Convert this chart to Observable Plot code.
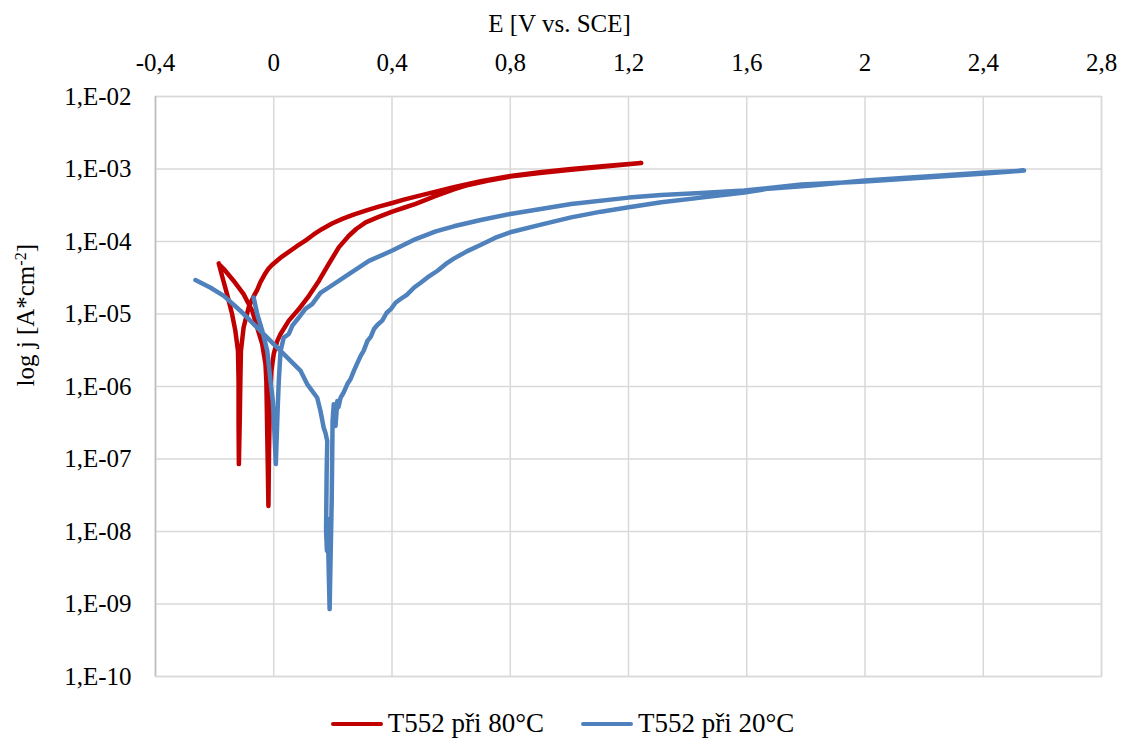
<!DOCTYPE html>
<html>
<head>
<meta charset="utf-8">
<script src="https://cdn.jsdelivr.net/npm/d3@7"></script>
<script src="https://cdn.jsdelivr.net/npm/@observablehq/plot@0.6"></script>
<style>
  html, body { margin: 0; padding: 0; background: #fff; }
  #wrap { width: 1121px; height: 738px; position: relative; overflow: hidden; font-family: "Liberation Serif", "Times New Roman", serif; }
  #legend { position: absolute; left: 0; top: 708px; width: 1121px; display: flex; justify-content: center; gap: 37px; font-size: 27px; color: #000; padding-left: 2px; }
  .item { display: flex; align-items: center; }
  .sw { display: inline-block; width: 52px; height: 0; border-top: 4px solid; margin-right: 5px; border-radius: 2px; }
</style>
</head>
<body>
<div id="wrap"><div id="chart"></div><div id="legend"></div></div>
<script>
// ---- Data (E in V vs. SCE, j in A/cm^2) ----
const seriesNames = ["T552 při 80°C", "T552 při 20°C"];
const seriesColors = ["#C00000", "#4F81BD"];

const redE = [-0.186, -0.175, -0.158, -0.141, -0.130, -0.121, -0.119, -0.119, -0.118, -0.115, -0.113, -0.111, -0.102, -0.085, -0.068, -0.056, -0.045, -0.030, -0.018, -0.006, 0.009, 0.028, 0.051, 0.078, 0.107, 0.135, 0.164, 0.197, 0.232, 0.270, 0.311, 0.355, 0.401, 0.440, 0.480, 0.548, 0.609, 0.700, 0.800, 0.900, 1.006, 1.120, 1.243,
  1.120, 1.006, 0.900, 0.800, 0.723, 0.650, 0.609, 0.548, 0.480, 0.440, 0.401, 0.355, 0.311, 0.280, 0.254, 0.220, 0.186, 0.153, 0.119, 0.085, 0.051, 0.023, 0.012, 0.000, -0.008, -0.013, -0.016, -0.018, -0.021, -0.025, -0.028, -0.039, -0.056, -0.073, -0.102, -0.136, -0.169, -0.184];
const redJ = [5.0e-5, 3.37e-5, 1.88e-5, 1.0e-5, 5.9e-6, 3.1e-6, 1.19e-6, 3.35e-7, 8.5e-8, 3.35e-7, 1.19e-6, 3.1e-6, 6.5e-6, 1.23e-5, 1.75e-5, 2.15e-5, 2.75e-5, 3.55e-5, 4.2e-5, 4.75e-5, 5.35e-5, 6.2e-5, 7.2e-5, 8.6e-5, 1.03e-4, 1.25e-4, 1.49e-4, 1.77e-4, 2.05e-4, 2.35e-4, 2.66e-4, 3.02e-4, 3.40e-4, 3.78e-4, 4.16e-4, 4.88e-4, 5.6e-4, 6.8e-4, 8.0e-4, 9.0e-4, 1.0e-3, 1.1e-3, 1.21e-3,
  1.08e-3, 9.8e-4, 8.8e-4, 7.85e-4, 6.9e-4, 5.9e-4, 5.25e-4, 4.25e-4, 3.30e-4, 2.92e-4, 2.58e-4, 2.18e-4, 1.84e-4, 1.50e-4, 1.20e-4, 8.3e-5, 4.89e-5, 2.88e-5, 1.78e-5, 1.17e-5, 8.1e-6, 5.3e-6, 4.26e-6, 2.82e-6, 1.64e-6, 6.3e-7, 1.29e-7, 2.25e-8, 1.29e-7, 1.19e-6, 2.03e-6, 3.84e-6, 6.5e-6, 1.11e-5, 1.88e-5, 2.88e-5, 4.17e-5, 4.8e-5];

const blueE = [-0.265, -0.215, -0.169, -0.113, -0.056, 0.000, 0.057, 0.091, 0.113, 0.147, 0.158, 0.169, 0.175, 0.181, 0.179, 0.177, 0.180, 0.182, 0.189, 0.192, 0.196, 0.199, 0.203, 0.209, 0.215, 0.219, 0.226, 0.236, 0.249, 0.260, 0.271, 0.280, 0.294, 0.304, 0.317, 0.328, 0.339, 0.351, 0.367, 0.382, 0.396, 0.412, 0.429, 0.450, 0.475, 0.497, 0.520, 0.554, 0.582, 0.609, 0.653, 0.701, 0.748, 0.800, 0.904, 1.006, 1.107, 1.201, 1.311, 1.446, 1.592, 1.673, 1.819, 1.999, 2.192, 2.395, 2.538,
  2.395, 2.192, 1.999, 1.785, 1.592, 1.446, 1.311, 1.201, 1.006, 0.800, 0.700, 0.609, 0.548, 0.480, 0.401, 0.322, 0.254, 0.186, 0.158, 0.130, 0.107, 0.085, 0.063, 0.051, 0.034, 0.023, 0.017, 0.013, 0.007, 0.002, -0.003, -0.011, -0.022, -0.039, -0.056, -0.068];
const blueJ = [2.94e-5, 2.32e-5, 1.78e-5, 1.11e-5, 6.5e-6, 3.84e-6, 2.26e-6, 1.64e-6, 1.08e-6, 7.0e-7, 4.6e-7, 2.7e-7, 2.28e-7, 1.77e-7, 6.8e-8, 1.01e-8, 5.4e-9, 1.5e-8, 8.5e-10, 3.9e-9, 2.63e-8, 3.35e-7, 5.7e-7, 2.86e-7, 6.3e-7, 5.2e-7, 7.0e-7, 8.2e-7, 1.08e-6, 1.27e-6, 1.64e-6, 1.99e-6, 2.65e-6, 3.1e-6, 4.26e-6, 4.84e-6, 6.2e-6, 7.1e-6, 8.1e-6, 1.04e-5, 1.17e-5, 1.43e-5, 1.61e-5, 1.84e-5, 2.32e-5, 2.70e-5, 3.19e-5, 3.95e-5, 4.9e-5, 5.8e-5, 7.3e-5, 9.0e-5, 1.12e-4, 1.34e-4, 1.71e-4, 2.15e-4, 2.58e-4, 2.96e-4, 3.47e-4, 4.03e-4, 4.72e-4, 5.36e-4, 5.9e-4, 6.92e-4, 7.85e-4, 8.9e-4, 9.5e-4,
  8.6e-4, 7.6e-4, 6.7e-4, 6.1e-4, 5.04e-4, 4.65e-4, 4.37e-4, 4.03e-4, 3.30e-4, 2.40e-4, 1.98e-4, 1.62e-4, 1.38e-4, 1.08e-4, 7.5e-5, 5.4e-5, 3.56e-5, 2.32e-5, 1.96e-5, 1.37e-5, 1.18e-5, 8.95e-6, 6.9e-6, 5.3e-6, 4.73e-6, 3.1e-6, 1.19e-6, 4.6e-7, 8.5e-8, 2.44e-7, 6.3e-7, 1.19e-6, 3.1e-6, 5.9e-6, 1.0e-5, 1.69e-5];

const xTicks = [-0.4, 0, 0.4, 0.8, 1.2, 1.6, 2, 2.4, 2.8];
const yTicks = [1e-2, 1e-3, 1e-4, 1e-5, 1e-6, 1e-7, 1e-8, 1e-9, 1e-10];
const xTitle = "E [V vs. SCE]";
const yTitle = "log j [A*cm-2]";

// ---- Build tables ----
const red = redE.map((e, i) => ({E: e, j: redJ[i], s: seriesNames[0]}));
const blue = blueE.map((e, i) => ({E: e, j: blueJ[i], s: seriesNames[1]}));

const grid = "#d9d9d9";
const chart = Plot.plot({
  width: 1121,
  height: 700,
  marginTop: 96,
  marginBottom: 24,
  marginLeft: 155,
  marginRight: 20,
  style: {fontFamily: "'Liberation Serif', 'Times New Roman', serif", fontSize: "25px", color: "#000", background: "#fff"},
  x: {domain: [-0.4, 2.8]},
  y: {type: "log", domain: [1e-10, 1e-2]},
  marks: [
    Plot.gridX(xTicks, {stroke: grid, strokeOpacity: 1, strokeWidth: 1.5}),
    Plot.gridY(yTicks, {stroke: grid, strokeOpacity: 1, strokeWidth: 1.5}),
    Plot.frame({stroke: grid, strokeWidth: 1.5}),
    Plot.ruleX([-0.4], {stroke: "#bfbfbf", strokeWidth: 1.5}),
    Plot.axisX(xTicks, {anchor: "top", tickSize: 0, tickPadding: 26, label: null, fontSize: 25,
      tickFormat: d => String(d).replace(".", ",")}),
    Plot.axisY(yTicks, {anchor: "left", tickSize: 0, tickPadding: 24, label: null, fontSize: 25,
      tickFormat: d => "1,E-" + String(Math.round(-Math.log10(d))).padStart(2, "0")}),
    Plot.line(red, {x: "E", y: "j", stroke: seriesColors[0], strokeWidth: 4.5, strokeLinejoin: "round", strokeLinecap: "round", curve: "linear"}),
    Plot.line(blue, {x: "E", y: "j", stroke: seriesColors[1], strokeWidth: 4.5, strokeLinejoin: "round", strokeLinecap: "round", curve: "linear"}),
    Plot.text([xTitle], {frameAnchor: "top", dx: -69, dy: -82, text: d => d, fontSize: 25}),
    Plot.text([yTitle], {frameAnchor: "left", dx: -130, rotate: -90, text: d => d, fontSize: 25})
  ]
});
document.getElementById("chart").appendChild(chart);

// superscript for the y title
d3.select(chart).selectAll("text").filter(function() { return this.textContent === yTitle; }).each(function() {
  const t = d3.select(this);
  t.text("log j [A*cm");
  t.append("tspan").attr("baseline-shift", "super").attr("font-size", "16px").text("-2");
  t.append("tspan").text("]");
});

// legend
const lg = d3.select("#legend");
seriesNames.forEach((n, i) => {
  const it = lg.append("div").attr("class", "item");
  it.append("span").attr("class", "sw").style("border-color", seriesColors[i]);
  it.append("span").text(n);
});
</script>
</body>
</html>
